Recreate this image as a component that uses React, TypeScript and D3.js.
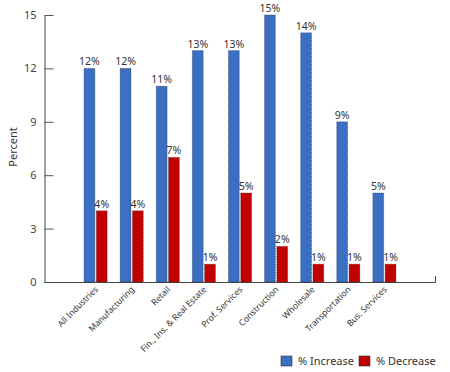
import * as React from "react";
import * as d3 from "d3";

const CATEGORIES = [
  "All Industries",
  "Manufacturing",
  "Retail",
  "Fin., Ins. & Real Estate",
  "Prof. Services",
  "Construction",
  "Wholesale",
  "Transportation",
  "Bus. Services",
];
const INCREASE = [12, 12, 11, 13, 13, 15, 14, 9, 5];
const DECREASE = [4, 4, 7, 1, 5, 2, 1, 1, 1];
const SERIES = ["% Increase", "% Decrease"];
const COLORS = ["#3a6fc3", "#c10000"];
const Y_TICKS = [0, 3, 6, 9, 12, 15];

const FONT = "'Noto Sans', 'DejaVu Sans', sans-serif";

export default function App() {
  const axisRef = React.useRef<SVGGElement>(null);
  const [width, height] = [450, 372];

  const y = d3.scaleLinear().domain([0, 15]).range([282, 15]);
  const x = d3
    .scaleBand<string>()
    .domain(CATEGORIES)
    .range([66, 414])
    .paddingInner(0.36)
    .paddingOuter(0.5);
  const sub = d3
    .scaleBand<string>()
    .domain(SERIES)
    .range([0, x.bandwidth()])
    .paddingInner(0.12);

  React.useEffect(() => {
    const g = d3.select(axisRef.current);
    g.call(
      d3
        .axisLeft(y)
        .tickValues(Y_TICKS)
        .tickFormat(d3.format("d"))
        .tickSizeInner(-9)
        .tickSizeOuter(0)
        .tickPadding(8)
    );
    g.select(".domain").attr("stroke", "#444");
    g.selectAll(".tick line").attr("stroke", "#555");
    g.selectAll(".tick text")
      .attr("fill", "#444")
      .style("font-family", FONT)
      .style("font-size", "11px");
  }, []);

  const rows = CATEGORIES.map((c, i) => ({
    cat: c,
    values: [INCREASE[i], DECREASE[i]],
  }));

  return (
    <svg
      width={width}
      height={height}
      style={{ position: "absolute", left: 0, top: 0, background: "#fff" }}
    >
      <g ref={axisRef} transform="translate(44.5,0)" />
      <line x1={44.5} x2={435.5} y1={y(0) + 0.5} y2={y(0) + 0.5} stroke="#444" />
      <line x1={435.5} x2={435.5} y1={y(0) - 6} y2={y(0) + 0.5} stroke="#444" />
      <text
        transform={`translate(14,147) rotate(-90)`}
        textAnchor="middle"
        dominantBaseline="middle"
        fontFamily={FONT}
        fontSize={11}
        fill="#333"
      >
        Percent
      </text>
      {rows.map((r) => (
        <g key={r.cat} transform={`translate(${x(r.cat)},0)`}>
          {r.values.map((v, j) => {
            const bx = sub(SERIES[j]) as number;
            return (
              <g key={j}>
                <rect
                  x={bx}
                  y={y(v)}
                  width={sub.bandwidth()}
                  height={y(0) - y(v)}
                  fill={COLORS[j]}
                  stroke="#2a2a3a"
                  strokeWidth={0.6}
                  strokeDasharray="1,1"
                />
                <text
                  x={bx + sub.bandwidth() / 2}
                  y={y(v) - 3}
                  textAnchor="middle"
                  fontFamily={FONT}
                  fontSize={10.5}
                  fill="#333"
                >
                  {v}%
                </text>
              </g>
            );
          })}
          <text
            transform={`translate(${x.bandwidth() / 2 + 3},290) rotate(-45)`}
            textAnchor="end"
            fontFamily={FONT}
            fontSize={8.6}
            fill="#333"
          >
            {r.cat}
          </text>
        </g>
      ))}
      {SERIES.map((s, j) => (
        <g key={s} transform={`translate(${[281, 359][j]},356)`}>
          <rect width={11} height={10} fill={COLORS[j]} stroke="#333" strokeWidth={0.6} />
          <text x={17} y={9} fontFamily={FONT} fontSize={11} fill="#333">
            {s}
          </text>
        </g>
      ))}
    </svg>
  );
}
